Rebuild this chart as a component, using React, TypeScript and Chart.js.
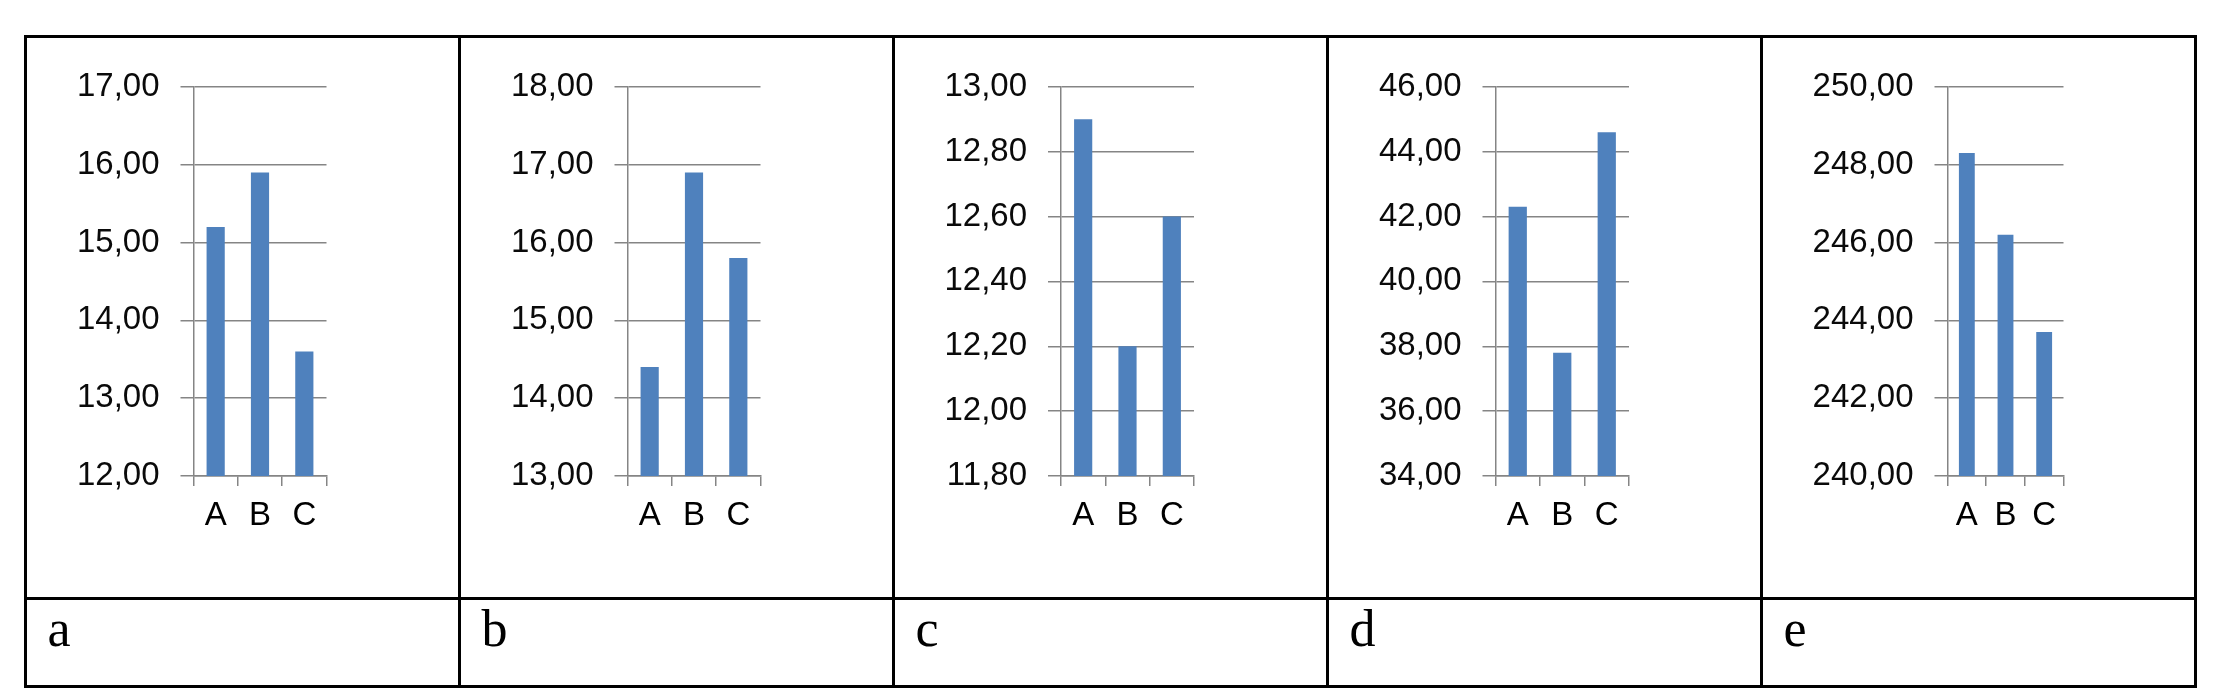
import React, { useEffect, useRef } from 'react';
import { Chart, registerables } from 'chart.js';

Chart.register(...registerables);

// ---- data ----
const categories = ['A', 'B', 'C'];
const valuesA = [15.2, 15.9, 13.6];
const valuesB = [14.4, 16.9, 15.8];
const valuesC = [12.9, 12.2, 12.6];
const valuesD = [42.3, 37.8, 44.6];
const valuesE = [248.3, 246.2, 243.7];
const ticksA = [12, 13, 14, 15, 16, 17];
const ticksB = [13, 14, 15, 16, 17, 18];
const ticksC = [11.8, 12.0, 12.2, 12.4, 12.6, 12.8, 13.0];
const ticksD = [34, 36, 38, 40, 42, 44, 46];
const ticksE = [240, 242, 244, 246, 248, 250];
const panelLabels = ['a', 'b', 'c', 'd', 'e'];

// ---- layout ----
const CELL_LEFTS = [25.5, 459.5, 893.5, 1327.5, 1761.5];
const PLOT_TOP = 80;
const PLOT_H = 396;
const CANVAS_TOP = 46;
const PAD_TOP = PLOT_TOP - CANVAS_TOP;
const X_AXIS_H = 60;
const PAD_RIGHT = 12;

const panels = [
  { values: valuesA, ticks: ticksA, axisOffset: 167.5, plotW: 133 },
  { values: valuesB, ticks: ticksB, axisOffset: 167.5, plotW: 133 },
  { values: valuesC, ticks: ticksC, axisOffset: 167, plotW: 133 },
  { values: valuesD, ticks: ticksD, axisOffset: 167.5, plotW: 133.5 },
  { values: valuesE, ticks: ticksE, axisOffset: 185.5, plotW: 116 },
];

const GRID = '#858585';
const BAR = '#4F81BD';
const FONT = 'Liberation Sans, Arial, sans-serif';

const fmt = (v: number) => Number(v).toFixed(2).replace('.', ',');

type PanelProps = {
  left: number;
  yW: number;
  plotW: number;
  values: number[];
  ticks: number[];
};

function BarPanel({ left, yW, plotW, values, ticks }: PanelProps) {
  const ref = useRef<HTMLCanvasElement | null>(null);
  const width = Math.round(yW + plotW + PAD_RIGHT);
  const height = PAD_TOP + PLOT_H + X_AXIS_H;

  useEffect(() => {
    if (!ref.current) return;
    const chart = new Chart(ref.current, {
      type: 'bar',
      data: {
        labels: categories,
        datasets: [
          {
            data: values,
            backgroundColor: BAR,
            borderWidth: 0,
            barPercentage: 0.41,
            categoryPercentage: 1,
          },
        ],
      },
      options: {
        responsive: false,
        animation: false,
        devicePixelRatio: 1,
        layout: { padding: { top: PAD_TOP, right: width - yW - plotW, bottom: 0, left: 0 } },
        plugins: { legend: { display: false }, tooltip: { enabled: false } },
        scales: {
          x: {
            offset: true,
            grid: {
              display: true,
              offset: true,
              drawOnChartArea: false,
              drawTicks: true,
              tickLength: 10,
              color: GRID,
              lineWidth: 1.5,
            },
            border: { display: true, color: GRID, width: 1.5 },
            ticks: { color: '#000', font: { family: FONT, size: 33 }, padding: 10, maxRotation: 0 },
            afterFit: (s: any) => {
              s.height = X_AXIS_H;
            },
          },
          y: {
            min: ticks[0],
            max: ticks[ticks.length - 1],
            grid: { color: GRID, lineWidth: 1.5, drawTicks: true, tickLength: 13 },
            border: { display: true, color: GRID, width: 1.5 },
            ticks: {
              color: '#0a0a0a',
              font: { family: FONT, size: 33 },
              padding: 21,
              callback: (v: any) => fmt(Number(v)),
            },
            afterBuildTicks: (s: any) => {
              s.ticks = ticks.map((v) => ({ value: v }));
            },
            afterFit: (s: any) => {
              s.width = yW;
            },
          },
        },
      },
    });
    return () => chart.destroy();
  }, []);

  return (
    <canvas
      ref={ref}
      width={width}
      height={height}
      style={{ position: 'absolute', left, top: CANVAS_TOP, width, height }}
    />
  );
}

const line = (l: number, t: number, w: number, h: number, key: string) => (
  <div key={key} style={{ position: 'absolute', left: l, top: t, width: w, height: h, background: '#000' }} />
);

export default function App() {
  const hLines = [35, 597, 685];
  const vLines = [24, 458, 892, 1326, 1760, 2194];
  return (
    <div style={{ position: 'absolute', left: 0, top: 0, width: 2230, height: 694, background: '#fff', overflow: 'hidden' }}>
      {panels.map((p, i) => {
        const left = CELL_LEFTS[i] + 8;
        const axisX = CELL_LEFTS[i] + p.axisOffset;
        return (
          <BarPanel key={i} left={left} yW={axisX - left} plotW={p.plotW} values={p.values} ticks={p.ticks} />
        );
      })}
      {hLines.map((y, i) => line(24, y, 2173, 3, 'h' + i))}
      {vLines.map((x, i) => line(x, 35, 3, 653, 'v' + i))}
      {panelLabels.map((t, i) => (
        <div
          key={'l' + i}
          style={{
            position: 'absolute',
            left: CELL_LEFTS[i] + 22,
            top: 603,
            fontFamily: 'Liberation Serif, Times New Roman, serif',
            fontSize: 52,
            lineHeight: 1,
            color: '#000',
          }}
        >
          {t}
        </div>
      ))}
    </div>
  );
}
